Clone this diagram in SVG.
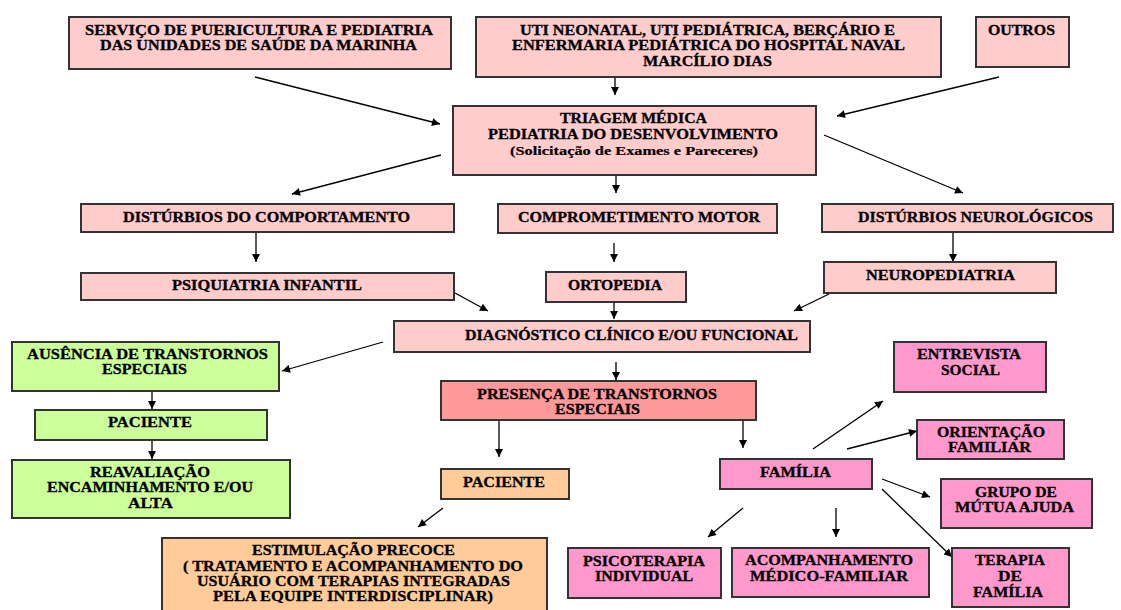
<svg xmlns="http://www.w3.org/2000/svg" width="1121" height="610" viewBox="0 0 1121 610">
  <style>
    .box { stroke: #333; stroke-width: 2; }
    .pink { fill: #FFCCCC; }
    .green { fill: #CCFF99; }
    .red { fill: #FF9999; }
    .orange { fill: #FFCC99; }
    .mag { fill: #FF99CC; }
    text { font-family: "Liberation Serif", "Times New Roman", serif; font-weight: bold; font-size: 15px; fill: #000; stroke: #000; stroke-width: 0.3; text-anchor: middle; }
    .small { font-size: 13px; stroke-width: 0.2; }
    .conn line { stroke: #000; stroke-width: 1.3; marker-end: url(#ah); }
  </style>
  <defs>
    <marker id="ah" viewBox="0 0 10 10" refX="10" refY="5" markerWidth="9" markerHeight="8" markerUnits="userSpaceOnUse" orient="auto">
      <path d="M0,0 L10,5 L0,10 Z" fill="#000"/>
    </marker>
  </defs>

  <!-- connectors -->
  <g id="connectors" class="conn">
    <line x1="255" y1="77" x2="440" y2="124"/>
    <line x1="615" y1="77" x2="615" y2="95"/>
    <line x1="999" y1="77" x2="837" y2="116"/>
    <line x1="441" y1="155" x2="292" y2="194"/>
    <line x1="616" y1="176" x2="616" y2="193"/>
    <line x1="824" y1="135" x2="963" y2="193"/>
    <line x1="256" y1="233" x2="256" y2="262"/>
    <line x1="614" y1="243" x2="614" y2="262"/>
    <line x1="953" y1="233" x2="953" y2="262"/>
    <line x1="455" y1="293" x2="488" y2="311"/>
    <line x1="614" y1="303" x2="614" y2="319"/>
    <line x1="829" y1="294" x2="794" y2="311"/>
    <line x1="383" y1="342" x2="282" y2="371"/>
    <line x1="616" y1="362" x2="616" y2="380"/>
    <line x1="152" y1="391" x2="152" y2="409"/>
    <line x1="152" y1="440" x2="152" y2="459"/>
    <line x1="499" y1="421" x2="499" y2="457"/>
    <line x1="743" y1="421" x2="743" y2="448"/>
    <line x1="443" y1="508" x2="418" y2="527"/>
    <line x1="813" y1="449" x2="883" y2="401"/>
    <line x1="847" y1="449" x2="917" y2="431"/>
    <line x1="882" y1="479" x2="930" y2="497"/>
    <line x1="882" y1="489" x2="952" y2="557"/>
    <line x1="743" y1="508" x2="708" y2="537"/>
    <line x1="836" y1="508" x2="836" y2="537"/>
  </g>

  <g id="servico">
    <rect class="box pink" x="69" y="17" width="382" height="52"/>
    <text x="259" y="35" textLength="348" lengthAdjust="spacingAndGlyphs">SERVIÇO DE  PUERICULTURA E  PEDIATRIA</text>
    <text x="258.5" y="50" textLength="317" lengthAdjust="spacingAndGlyphs">DAS UNIDADES DE SAÚDE DA MARINHA</text>
  </g>

  <g id="uti">
    <rect class="box pink" x="476" y="17" width="465" height="60"/>
    <text x="707.5" y="35" textLength="375" lengthAdjust="spacingAndGlyphs">UTI NEONATAL, UTI PEDIÁTRICA, BERÇÁRIO E</text>
    <text x="708.5" y="50" textLength="393" lengthAdjust="spacingAndGlyphs">ENFERMARIA PEDIÁTRICA DO HOSPITAL NAVAL</text>
    <text x="707.5" y="66" textLength="129" lengthAdjust="spacingAndGlyphs">MARCÍLIO DIAS</text>
  </g>

  <g id="outros">
    <rect class="box pink" x="976" y="17" width="93" height="50"/>
    <text x="1021.5" y="35" textLength="67" lengthAdjust="spacingAndGlyphs">OUTROS</text>
  </g>

  <g id="triagem">
    <rect class="box pink" x="453" y="106" width="363" height="69"/>
    <text x="633.5" y="123" textLength="147" lengthAdjust="spacingAndGlyphs">TRIAGEM MÉDICA</text>
    <text x="633" y="139" textLength="290" lengthAdjust="spacingAndGlyphs">PEDIATRIA DO DESENVOLVIMENTO</text>
    <text class="small" x="634" y="155" textLength="248" lengthAdjust="spacingAndGlyphs">(Solicitação de Exames e Pareceres)</text>
  </g>

  <g id="disturbios-comportamento">
    <rect class="box pink" x="81" y="204" width="373" height="28"/>
    <text x="266.5" y="222" textLength="287" lengthAdjust="spacingAndGlyphs">DISTÚRBIOS DO COMPORTAMENTO</text>
  </g>

  <g id="comprometimento-motor">
    <rect class="box pink" x="498" y="204" width="279" height="29"/>
    <text x="639" y="222" textLength="242" lengthAdjust="spacingAndGlyphs">COMPROMETIMENTO MOTOR</text>
  </g>

  <g id="disturbios-neurologicos">
    <rect class="box pink" x="822" y="204" width="291" height="28"/>
    <text x="975.5" y="222" textLength="235" lengthAdjust="spacingAndGlyphs">DISTÚRBIOS NEUROLÓGICOS</text>
  </g>

  <g id="psiquiatria">
    <rect class="box pink" x="81" y="273" width="373" height="27"/>
    <text x="267" y="290" textLength="190" lengthAdjust="spacingAndGlyphs">PSIQUIATRIA INFANTIL</text>
  </g>

  <g id="ortopedia">
    <rect class="box pink" x="546" y="272" width="140" height="30"/>
    <text x="615" y="290" textLength="94" lengthAdjust="spacingAndGlyphs">ORTOPEDIA</text>
  </g>

  <g id="neuropediatria">
    <rect class="box pink" x="824" y="262" width="232" height="31"/>
    <text x="940.5" y="280" textLength="149" lengthAdjust="spacingAndGlyphs">NEUROPEDIATRIA</text>
  </g>

  <g id="diagnostico">
    <rect class="box pink" x="394" y="321" width="416" height="31"/>
    <text x="631.5" y="340" textLength="333" lengthAdjust="spacingAndGlyphs">DIAGNÓSTICO CLÍNICO E/OU FUNCIONAL</text>
  </g>

  <g id="ausencia">
    <rect class="box green" x="12" y="342" width="267" height="49"/>
    <text x="147.5" y="359" textLength="241" lengthAdjust="spacingAndGlyphs">AUSÊNCIA DE TRANSTORNOS</text>
    <text x="144.5" y="374" textLength="85" lengthAdjust="spacingAndGlyphs">ESPECIAIS</text>
  </g>

  <g id="paciente-verde">
    <rect class="box green" x="35" y="410" width="232" height="30"/>
    <text x="150" y="427" textLength="84" lengthAdjust="spacingAndGlyphs">PACIENTE</text>
  </g>

  <g id="reavaliacao">
    <rect class="box green" x="12" y="460" width="278" height="58"/>
    <text x="150" y="477" textLength="120" lengthAdjust="spacingAndGlyphs">REAVALIAÇÃO</text>
    <text x="150" y="492" textLength="206" lengthAdjust="spacingAndGlyphs">ENCAMINHAMENTO E/OU</text>
    <text x="150.5" y="508" textLength="45" lengthAdjust="spacingAndGlyphs">ALTA</text>
  </g>

  <g id="presenca">
    <rect class="box red" x="441" y="381" width="315" height="39"/>
    <text x="597" y="399" textLength="240" lengthAdjust="spacingAndGlyphs">PRESENÇA DE TRANSTORNOS</text>
    <text x="597.5" y="414" textLength="85" lengthAdjust="spacingAndGlyphs">ESPECIAIS</text>
  </g>

  <g id="paciente-laranja">
    <rect class="box orange" x="441" y="469" width="128" height="30"/>
    <text x="504" y="487" textLength="82" lengthAdjust="spacingAndGlyphs">PACIENTE</text>
  </g>

  <g id="estimulacao">
    <rect class="box orange" x="162" y="538" width="385" height="80"/>
    <text x="353.5" y="555" textLength="203" lengthAdjust="spacingAndGlyphs">ESTIMULAÇÃO PRECOCE</text>
    <text x="353" y="571" textLength="340" lengthAdjust="spacingAndGlyphs">( TRATAMENTO E ACOMPANHAMENTO DO</text>
    <text x="353.5" y="586" textLength="313" lengthAdjust="spacingAndGlyphs">USUÁRIO COM TERAPIAS INTEGRADAS</text>
    <text x="353" y="601" textLength="280" lengthAdjust="spacingAndGlyphs">PELA EQUIPE INTERDISCIPLINAR)</text>
  </g>

  <g id="familia">
    <rect class="box mag" x="720" y="459" width="152" height="30"/>
    <text x="795.5" y="477" textLength="71" lengthAdjust="spacingAndGlyphs">FAMÍLIA</text>
  </g>

  <g id="entrevista">
    <rect class="box mag" x="894" y="342" width="152" height="50"/>
    <text x="969" y="359" textLength="104" lengthAdjust="spacingAndGlyphs">ENTREVISTA</text>
    <text x="970.5" y="375" textLength="59" lengthAdjust="spacingAndGlyphs">SOCIAL</text>
  </g>

  <g id="orientacao">
    <rect class="box mag" x="917" y="420" width="147" height="39"/>
    <text x="991" y="437" textLength="108" lengthAdjust="spacingAndGlyphs">ORIENTAÇÃO</text>
    <text x="989.5" y="452" textLength="83" lengthAdjust="spacingAndGlyphs">FAMILIAR</text>
  </g>

  <g id="grupo">
    <rect class="box mag" x="941" y="479" width="151" height="49"/>
    <text x="1016" y="497" textLength="82" lengthAdjust="spacingAndGlyphs">GRUPO DE</text>
    <text x="1014.5" y="512" textLength="119" lengthAdjust="spacingAndGlyphs">MÚTUA AJUDA</text>
  </g>

  <g id="terapia">
    <rect class="box mag" x="952" y="548" width="117" height="59"/>
    <text x="1010" y="565" textLength="70" lengthAdjust="spacingAndGlyphs">TERAPIA</text>
    <text x="1010" y="581" textLength="24" lengthAdjust="spacingAndGlyphs">DE</text>
    <text x="1008" y="597" textLength="70" lengthAdjust="spacingAndGlyphs">FAMÍLIA</text>
  </g>

  <g id="psicoterapia">
    <rect class="box mag" x="568" y="548" width="153" height="50"/>
    <text x="644" y="566" textLength="122" lengthAdjust="spacingAndGlyphs">PSICOTERAPIA</text>
    <text x="644" y="581" textLength="98" lengthAdjust="spacingAndGlyphs">INDIVIDUAL</text>
  </g>

  <g id="acompanhamento">
    <rect class="box mag" x="732" y="548" width="197" height="49"/>
    <text x="829" y="565" textLength="168" lengthAdjust="spacingAndGlyphs">ACOMPANHAMENTO</text>
    <text x="829" y="581" textLength="158" lengthAdjust="spacingAndGlyphs">MÉDICO-FAMILIAR</text>
  </g>
</svg>
